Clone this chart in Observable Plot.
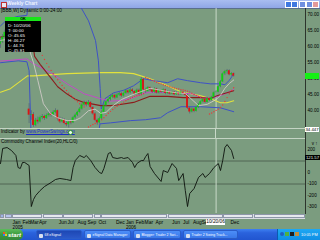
<!DOCTYPE html>
<html><head><meta charset="utf-8">
<script src="https://cdn.jsdelivr.net/npm/d3@7"></script>
<script src="https://cdn.jsdelivr.net/npm/@observablehq/plot@0.6"></script>
<style>
html,body{margin:0;padding:0;width:320px;height:240px;overflow:hidden;background:#7b9c7f;font-family:"Liberation Sans",Arial,sans-serif;}
#root{position:relative;width:320px;height:240px;overflow:hidden;background:#7b9c7f;}
.abs{position:absolute;}
.t{position:absolute;white-space:nowrap;line-height:1;}
.il{color:#fff;font-size:4.4px;line-height:5px;padding-left:3px;white-space:nowrap;}
.tb{position:absolute;top:1px;height:9px;border-radius:2px;color:#fff;font-size:3.5px;line-height:9px;white-space:nowrap;overflow:hidden;padding-left:7.5px;box-sizing:border-box;background:linear-gradient(#4c8ef8,#3a78e8);border:0.5px solid #2a5cc8;}
.ic{position:absolute;left:2px;top:2.5px;width:4px;height:4px;background:#d8e0f0;border-radius:1px;}
.sb{position:absolute;top:0;height:4px;background:#e6e9ee;border:0.5px solid #8d96a8;box-sizing:border-box;}
</style></head>
<body><div id="root">
<div class="abs" style="left:0;top:0;width:320px;height:8px;background:linear-gradient(#a9bdf0,#8fa6e6);"></div>
<div class="abs" style="left:1px;top:1.5px;width:4px;height:4px;background:#e8e8f0;border:0.5px solid #c03030;"></div>
<div class="t" style="left:7px;top:1.8px;font-size:4.8px;color:#eef3ff;font-weight:bold;">Weekly Chart</div>
<div class="abs" style="left:285px;top:1.2px;width:5px;height:5px;background:#3f78e0;border:0.5px solid #fff;"></div>
<div class="abs" style="left:291px;top:1.2px;width:5px;height:5px;background:#3f78e0;border:0.5px solid #fff;"></div>
<div class="abs" style="left:299px;top:1.2px;width:5px;height:5px;background:#6f8fe0;border:0.5px solid #fff;"></div>
<div class="abs" style="left:305.5px;top:1.2px;width:5px;height:5px;background:#6f8fe0;border:0.5px solid #fff;"></div>
<div class="abs" style="left:312px;top:1.2px;width:5px;height:5px;background:#e39a9a;border:0.5px solid #fff;"></div>
<div class="abs" style="left:0;top:7.5px;width:320px;height:0.7px;background:#5a6f8a;"></div>

<div id="price" class="abs" style="left:0;top:8px;"></div>
<div id="cci" class="abs" style="left:0;top:138px;"></div>
<div class="abs" style="left:0;top:127.8px;width:305px;height:0.8px;background:#c4d4c4;"></div>
<div class="abs" style="left:0;top:137.6px;width:305px;height:0.8px;background:#c4d4c4;"></div>
<div id="gapcursor" class="abs" style="top:128px;width:1px;height:10px;background:#c9d9c9;"></div>
<div class="abs" style="left:304.5px;top:8px;width:0.8px;height:206px;background:#2c342c;"></div>

<div class="t" style="left:1px;top:9.3px;font-size:4.7px;color:#000;">[BBB,W] Dynamic 0:00-24:00</div>
<div class="abs" style="left:5px;top:17px;width:36px;height:35px;background:#000;">
  <div style="height:4px;background:#19e619;color:#000;font-size:3.8px;text-align:center;line-height:4px;font-weight:bold;">OK</div>
  <div style="height:1.5px"></div>
  <div class="il">D: 10/20/06</div>
  <div class="il">T: 00:00</div>
  <div class="il">O: 45.65</div>
  <div class="il">H: 46.27</div>
  <div class="il">L: 44.76</div>
  <div class="il">C: 45.81</div>
</div>
<div class="t" style="left:1px;top:129.8px;font-size:4.6px;color:#000;">Indicator by <span style="color:#1c2cc8;text-decoration:underline;">www.PowerSwings.com</span></div>
<div class="abs" style="left:68px;top:130.2px;width:2.5px;height:2.5px;border-radius:50%;background:#e8ffe8;border:0.4px solid #2a8a2a;"></div>
<div class="t" style="left:1px;top:139.8px;font-size:4.6px;color:#000;">Commodity Channel Index(20,HLC/0)</div>

<div id="pbox" class="abs" style="left:305px;width:14px;height:6px;background:#14f014;"></div>
<div class="abs" style="left:305px;top:126.5px;width:14px;height:5px;background:#fff;color:#000;font-size:4.3px;line-height:5px;text-align:center;">34.447</div>
<div id="cbox" class="abs" style="left:305px;width:15px;height:5px;background:#000;color:#e8f8e8;font-size:4.3px;line-height:5px;text-align:center;">121.57</div>

<div class="abs" style="left:0;top:214px;width:305px;height:4.6px;background:#d9dde3;">
  <div class="sb" style="left:0;width:4px;background:#9fb3e6;"></div>
  <div class="sb" style="left:4.5px;width:7px;background:#b8c6ec;"></div>
  <div class="sb" style="left:12px;width:30px;"></div>
  <div class="sb" style="left:42.5px;width:20px;"></div>
  <div class="sb" style="left:63px;width:30px;"></div>
  <div class="sb" style="left:93.5px;width:7px;"></div>
  <div class="sb" style="left:101px;width:66px;"></div>
  <div class="sb" style="left:167.5px;width:55px;"></div>
  <div class="sb" style="left:223px;width:30px;"></div>
  <div class="sb" style="left:253.5px;width:51px;"></div>
</div>
<div id="dates" class="abs" style="left:0;top:219px;"></div>
<div id="cbox2" class="abs" style="top:219.3px;width:19px;height:5.6px;background:#fff;color:#000;font-size:4.8px;line-height:5.6px;text-align:center;">10/20/06</div>

<div class="abs" style="left:0;top:229px;width:320px;height:11px;background:linear-gradient(#3d80f2,#2a62dc 35%,#2155d0);"></div>
<div class="abs" style="left:0;top:229px;width:23px;height:11px;border-radius:0 5px 5px 0;background:linear-gradient(#5cbc5c,#3c9a3c 50%,#34883a);"></div>
<div class="abs" style="left:2.5px;top:232px;width:2px;height:2px;background:#f05020;"></div>
<div class="abs" style="left:4.8px;top:232px;width:2px;height:2px;background:#60c030;"></div>
<div class="abs" style="left:2.5px;top:234.3px;width:2px;height:2px;background:#3080f0;"></div>
<div class="abs" style="left:4.8px;top:234.3px;width:2px;height:2px;background:#f0c020;"></div>
<div class="t" style="left:8px;top:231.6px;font-size:6px;color:#fff;font-style:italic;font-weight:bold;">start</div>
<div class="abs" style="left:0;top:229px;width:320px;height:11px;">
  <div class="tb" style="left:36px;width:46px;background:linear-gradient(#1e48b4,#2a58c8);"><span class="ic"></span>68 eSignal</div>
  <div class="tb" style="left:84px;width:47px;"><span class="ic"></span>eSignal Data Manager</div>
  <div class="tb" style="left:133px;width:48px;"><span class="ic"></span>Blogger: Trader 2 Swi...</div>
  <div class="tb" style="left:183px;width:55px;"><span class="ic"></span>Trader 2 Swing Track...</div>
  <div class="abs" style="left:277px;top:0;width:43px;height:11px;background:linear-gradient(#1ea8f4,#0f8fe4);border-left:0.5px solid #0a5cb0;"></div>
  <div class="abs" style="left:280px;top:3px;width:4px;height:4px;background:#2060c0;border-radius:50%;"></div>
  <div class="abs" style="left:285px;top:3px;width:4px;height:4px;background:#50b040;"></div>
  <div class="abs" style="left:290px;top:3px;width:4px;height:4px;background:#202020;"></div>
  <div class="abs" style="left:295px;top:3px;width:4px;height:4px;background:#c09040;"></div>
  <div class="t" style="left:301px;top:3.5px;font-size:3.9px;color:#fff;">10:05 PM</div>
</div>
</div>
<script>
// ---- weekly OHLC (week index 0 ~ late Nov 2004) ----
const open = [60.8,61.5,63.0,64.5,63.8,65.0,64.2,65.5,64.8,63.5,
  64.0,62.8,63.2,40.5,38.6,38.8,35.4,37.0,36.5,37.8,
  38.2,37.6,38.5,39.0,38.6,39.5,40.0,37.5,36.5,37.2,
  36.0,35.6,36.5,36.2,37.8,38.6,39.5,40.5,41.8,42.5,
  41.8,42.6,41.0,39.0,37.0,36.2,37.5,39.5,41.5,42.8,
  43.5,44.2,44.8,44.0,44.9,45.3,44.6,45.4,46.2,45.6,
  46.5,46.0,45.2,46.4,45.2,49.8,46.5,46.0,47.2,46.5,
  45.8,46.8,45.5,46.3,45.8,46.5,45.4,45.9,45.2,45.8,
  45.0,45.6,45.0,45.8,45.3,44.8,40.8,39.6,40.5,39.8,
  41.0,42.0,42.8,43.5,42.6,43.8,43.2,44.2,45.65,45.8,
  47.5,49.0,51.5,52.2,52.5,51.2,51.6];
const high = [62.5,63.8,65.2,65.0,65.6,65.4,66.0,66.2,65.2,64.6,
  64.3,63.8,63.5,42.2,40.0,39.4,37.6,38.0,38.3,38.8,
  38.6,39.0,39.6,39.4,40.0,40.6,40.2,38.0,37.8,37.5,
  36.6,37.0,37.0,38.2,39.0,39.8,41.0,42.2,43.0,42.8,
  43.2,42.8,41.3,39.4,37.4,38.0,40.0,42.0,43.2,44.0,
  44.8,45.4,45.2,45.4,45.8,45.6,45.8,46.6,46.5,47.0,
  46.9,46.3,46.8,46.8,50.4,50.0,47.0,47.6,47.4,46.8,
  47.2,47.0,46.6,46.5,46.8,46.7,46.2,46.1,46.1,46.0,
  45.9,45.8,46.2,46.0,45.6,45.1,41.2,40.9,40.8,41.4,
  42.3,43.1,43.9,43.7,44.1,44.0,44.5,45.9,46.27,47.8,
  49.4,51.8,52.6,52.9,52.8,51.9,51.8];
const low = [59.5,61.0,62.6,63.2,63.5,63.8,64.0,64.5,63.0,63.0,
  62.4,62.5,61.6,36.0,37.0,34.8,35.0,35.8,36.2,37.2,
  37.0,37.3,38.0,38.0,38.3,39.1,36.8,36.0,36.2,35.6,
  35.0,34.6,35.6,36.0,37.4,38.2,39.2,40.2,41.4,41.2,
  41.5,40.6,38.6,36.6,35.5,35.8,37.2,39.2,41.2,42.4,
  43.0,43.8,43.6,43.8,44.5,44.2,44.3,45.1,45.2,45.3,
  45.6,44.8,45.0,44.8,44.9,46.0,45.4,45.8,46.0,45.4,
  45.5,45.2,45.2,45.4,45.5,45.0,45.1,44.9,45.0,44.7,
  44.8,44.7,44.8,45.0,44.5,40.4,39.0,39.3,39.4,39.6,
  40.7,41.7,42.5,42.3,42.4,42.9,43.0,44.0,44.76,45.6,
  47.2,48.8,51.0,51.4,50.9,50.8,50.5];
const close = [61.5,63.0,64.5,63.8,65.0,64.2,65.5,64.8,63.5,64.0,
  62.8,63.2,62.0,38.6,38.8,35.4,37.0,36.5,37.8,38.2,
  37.6,38.5,39.0,38.6,39.5,40.0,37.5,36.5,37.2,36.0,
  35.6,36.5,36.2,37.8,38.6,39.5,40.5,41.8,42.5,41.8,
  42.6,41.0,39.0,37.0,36.2,37.5,39.5,41.5,42.8,43.5,
  44.2,44.8,44.0,44.9,45.3,44.6,45.4,46.2,45.6,46.5,
  46.0,45.2,46.4,45.2,49.8,46.5,46.0,47.2,46.5,45.8,
  46.8,45.5,46.3,45.8,46.5,45.4,45.9,45.2,45.8,45.0,
  45.6,45.0,45.8,45.3,44.8,40.8,39.6,40.5,39.8,41.0,
  42.0,42.8,43.5,42.6,43.8,43.2,44.2,45.6,45.81,47.5,
  49.0,51.5,52.2,52.5,51.2,51.6,50.8];

// ---- overlay studies [week, price] ----
const upperBand = [[0,66.5],[3,68.5],[8,69.5],[12,69.8],[13,76],[35,80],[36.4,72.5],[40,68.1],[43.2,61.9],[44.5,55.6],[45.3,47],[45.8,40.5],[47.5,43.8],[51.4,45.6],[56,46.4],[60.5,47.8],[65,50.0],[69.5,49.4],[76,48.75],[80.5,50.0],[85,49.4],[91,48.75],[95.5,48.4],[100,48.4],[102,48.1],[104,49.5],[106,51.5]];
const lowerBand = [[0,55.0],[8,55.6],[12,55.3],[13,52.5],[14,30],[44,30],[45.2,35.9],[50,36.2],[59,36.9],[66,37.2],[72.7,37.8],[76,39.4],[82,41.25],[91,41.25],[100,40.9],[106,39.7]];
const maroonMA = [[0,63],[13,65],[14.5,62],[15.5,57],[18,54.5],[22.7,50.4],[26,47.5],[30.3,45.2],[34,43.6],[37.9,42.6],[45.5,41.6],[50,41.6],[53,41.8],[60.5,42.6],[68,44.5],[76,44.5],[83,44.1],[91,44.1],[95.5,43.8],[98,44.6],[101.4,45.3],[106,46.25]];
const magentaMA = [[0,55.5],[12,56.2],[15,54.7],[22.7,51.9],[30.3,48.4],[38,45.3],[45.5,43.75],[50,43.0],[55,43.2],[60,44.0],[65,45.5],[70,45.8],[76,45.7],[82,45.5],[87,45.3],[91,44.2],[95,43.9],[99,44.5],[102,45.3],[106,46.6]];
const yellowMA = [[0,45.8],[4.5,46.9],[12.3,50.9],[15,50.9],[30.3,51.6],[45.5,51.9],[54.5,51.9],[60.5,51.6],[68,50.0],[76,47.8],[82,45.9],[91,44.7],[95.5,43.75],[100,42.5],[103,42.5],[106,43.1]];
const fastMA = [[0,62],[12,63],[13,62],[13.6,58],[15,55],[17,49.4],[19.5,42.2],[22.7,39.1],[26,37.8],[30.3,36.9],[34,37],[36.4,37.8],[40,40],[43,40.5],[45.5,39.2],[48,39.5],[51,41.5],[55,43.5],[60,45],[64,46],[68,47],[72,46.5],[76,46],[80,45.6],[84,45.4],[87,43.5],[90,41.6],[94,42],[98,43.5],[100,44.8],[102,47],[104,48.5],[106,49.6]];
const sarWeek = [16,17,18,19,20,21,22,23,24,25,26,27,28,29,30,31,32,33,34,35,36,37,38,
  40,41,42,43,45,46,47,48,49,50,51,52,53,54,55,56,57,58,59,60,61,62,63,64,65,
  66,67,68,69,70,71,72,73,74,75,76,77,78,79,80,81,82,83,84,85,86,87,88,89,90,91,92,93,
  95,96,97,98,99,100,101,102,103,104,105,106];
const sarValue = [61.5,60,58.6,57.3,56,54.8,53.7,52.6,51.6,50.6,49.7,48.8,47.9,47.1,46.3,45.5,44.8,44.1,43.4,42.8,42.2,41.7,41.2,
  34.9,35.3,35.7,36.0,36.6,37.2,37.8,38.5,39.2,39.8,40.4,40.9,41.4,41.9,42.3,42.7,43.1,43.5,43.9,44.2,44.5,44.7,44.8,45.0,45.3,
  50.4,50.1,49.8,49.5,49.2,48.9,48.6,48.4,48.1,47.9,47.7,47.5,47.3,47.1,46.9,46.8,46.6,46.5,46.3,46.1,45.9,45.5,45.1,44.8,44.5,44.2,43.9,43.7,
  39.0,39.3,39.7,40.1,40.5,41.0,41.8,42.9,44.1,45.3,46.3,47.2];

// ---- CCI(20) ----
const cciWeek = [0,1,3,5,7,8,9,10,11,13,14,15,16,18,20,23,25,27,30,32,33,34,36,38,39,41,43,45,46,47,49,50,51,53,55,56,58,60,61,62,64,65,66,67,68,70,73,74,76,78,80,81,83,84,85,86,88,90,92,93,95,97,99,100,101,102,103,105,106];
const cciValue = [78,209,217,191,148,43,35,87,87,61,-296,-235,-200,-157,-122,-87,-61,-52,-61,-70,43,104,148,130,148,104,43,0,-9,35,165,174,130,122,130,122,130,87,43,78,104,104,139,165,52,-9,-78,17,0,78,35,-70,-9,-157,-296,-183,-139,-43,-9,-43,-9,43,78,17,104,217,243,191,122];

// ---- axis labels ----
const priceTicks = [40,45,50,55,60,65,70];
const cciTicks = [200,0,-100,-200,-300]; // the 100 level is covered by the live-value box
const monthLabels = ["Jan","Feb","Mar","Apr","Jun","Jul","Aug","Sep","Oct","Dec","Jan","Feb","Mar","Apr","Jun","Jul","Aug","Sep","Dec"];
const monthWeeks = [5.5,10,13.5,17.5,26.5,30.5,35,39.5,44.5,52.5,57,61.5,65.5,70.5,78,83,87.5,91.5,104.5];
const yearLabels = ["2005","2006"];
const yearWeeks = [5.5,57];
const cursorWeek = 98;
const axisMin = 34.447;

const candles = close.map((c, i) => ({i, open: open[i], high: high[i], low: low[i], close: c}));
const pts = a => a.map(([w, v]) => ({w, v}));
const sar = sarWeek.map((w, k) => ({w, v: sarValue[k]}));
const cci = cciWeek.map((w, k) => ({w, v: cciValue[k]}));

const xDom = [0, 305 / 2.2];
const common = {width: 320, marginLeft: 0, marginRight: 15, marginTop: 0, marginBottom: 0,
  style: {background: "transparent", color: "#000", fontFamily: "Liberation Sans, Arial, sans-serif", overflow: "visible"}};
const lineOpt = (stroke, w = 1) => ({x: "w", y: "v", stroke, strokeWidth: w, clip: true});

const priceChart = Plot.plot({
  ...common, height: 120,
  x: {domain: xDom, axis: null},
  y: {domain: [axisMin, axisMin + 120 / 3.2]},
  marks: [
    Plot.ruleX([cursorWeek], {stroke: "#c9d9c9", strokeWidth: 1}),
    Plot.line(pts(yellowMA), lineOpt("#e2e23c", 1.1)),
    Plot.line(pts(upperBand), lineOpt("#3e52c6")),
    Plot.line(pts(lowerBand), lineOpt("#3e52c6")),
    Plot.line(pts(magentaMA), lineOpt("#c24cc6")),
    Plot.line(pts(maroonMA), lineOpt("#8c1c1c", 1.1)),
    Plot.dot(sar, {x: "w", y: "v", r: 0.7, fill: "#e83a3a", stroke: null, clip: true}),
    Plot.ruleX(candles, {x: "i", y1: "low", y2: "high", stroke: "#50607a", strokeWidth: 0.7, clip: true}),
    Plot.rect(candles, {x1: d => d.i - 0.42, x2: d => d.i + 0.42, y1: "open", y2: "close",
      fill: d => d.close >= d.open ? "#12cc12" : "#dc1414", clip: true}),
    Plot.line(pts(fastMA), lineOpt("#d9cfcf", 0.8)),
    Plot.axisY({anchor: "right", ticks: priceTicks, tickSize: 0, tickPadding: 2, fontSize: 4.6,
      tickFormat: d => d.toFixed(2)})
  ]
});
document.getElementById("price").appendChild(priceChart);

const cciChart = Plot.plot({
  ...common, height: 75,
  x: {domain: xDom, axis: null},
  y: {domain: [34 / 0.115 - 75 / 0.115, 34 / 0.115]},
  marks: [
    Plot.ruleY([100, -100], {stroke: "#46594a", strokeWidth: 0.8}),
    Plot.ruleX([cursorWeek], {stroke: "#c9d9c9", strokeWidth: 1}),
    Plot.line(cci, {x: "w", y: "v", stroke: "#0c120c", strokeWidth: 0.9, clip: true}),
    Plot.axisY({anchor: "right", ticks: cciTicks, tickSize: 0, tickPadding: 2, fontSize: 4.6,
      tickFormat: d => String(d)})
  ]
});
document.getElementById("cci").appendChild(cciChart);

const dateChart = Plot.plot({
  ...common, height: 10,
  x: {domain: xDom, axis: null},
  marks: [
    Plot.text(monthLabels, {x: (d, k) => monthWeeks[k], text: d => d, frameAnchor: "top", lineAnchor: "top",
      textAnchor: "start", fontSize: 4.9, fill: "#000", dy: 0.6}),
    Plot.text(yearLabels, {x: (d, k) => yearWeeks[k], text: d => d, frameAnchor: "bottom", lineAnchor: "bottom",
      textAnchor: "start", fontSize: 4.6, fill: "#000", dy: -0.6})
  ]
});
document.getElementById("dates").appendChild(dateChart);

// position overlays from the library scales
const xs = priceChart.scale("x"), ys = priceChart.scale("y"), cs = cciChart.scale("y");
const cx = xs.apply(cursorWeek);
document.getElementById("gapcursor").style.left = (cx - 0.5) + "px";
document.getElementById("cbox2").style.left = (cx - 9.5) + "px";
document.getElementById("pbox").style.top = (8 + ys.apply(close[close.length - 1]) - 3) + "px";
document.getElementById("cbox").style.top = (138 + cs.apply(cciValue[cciValue.length - 1]) - 2.5) + "px";
</script>
</body></html>
